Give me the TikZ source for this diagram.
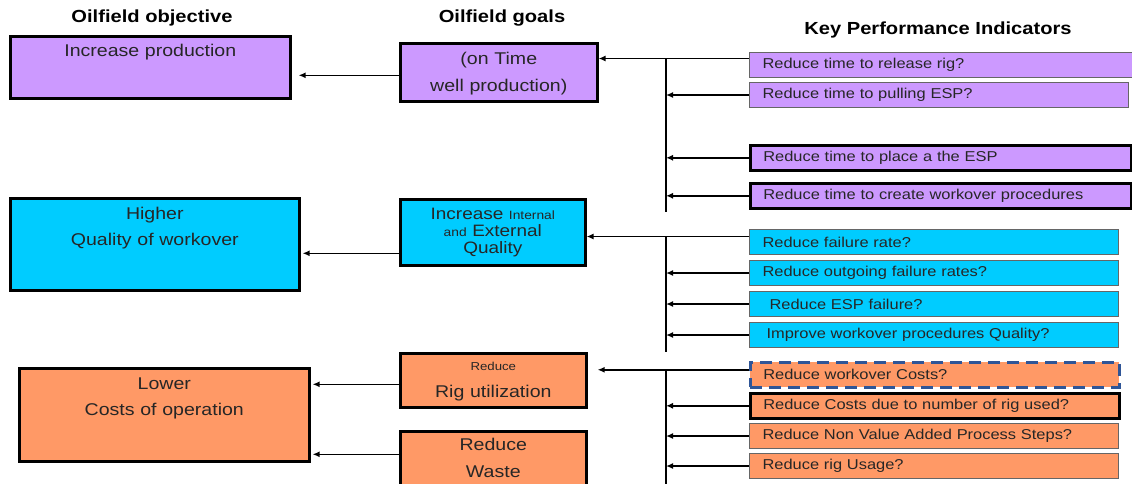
\documentclass[tikz,border=0pt]{standalone}
\usepackage{fontspec}
\setmainfont{Liberation Sans}[FakeStretch=1.15]
\usetikzlibrary{arrows.meta}
\definecolor{lilac}{HTML}{CC99FF}
\definecolor{skyc}{HTML}{00CCFF}
\definecolor{peach}{HTML}{FF9966}
\definecolor{dashblue}{HTML}{2F5597}

\begin{document}
\begin{tikzpicture}[x=1pt,y=-1pt,
	heading/.style={font=\fontsize{17.5}{20}\selectfont\bfseries},
	bigbox/.style={draw=black, line width=2.6pt, anchor=north west, inner xsep=4pt, inner ysep=0pt, align=center, text=black!85, font=\fontsize{17}{26}\selectfont},
	kpi/.style={draw=black!60, line width=1pt, anchor=north west, inner xsep=13pt, inner ysep=0pt, minimum height=25pt, align=left, text=black!85, font=\fontsize{14.3}{16}\selectfont},
	thickkpi/.style={kpi, draw=black, line width=2.6pt},
	arr/.style={line width=1.6pt, -{Latex[length=7pt,width=6pt]}},
	bus/.style={line width=2.2pt}]
	\useasboundingbox (0,0) rectangle (1132,483);
	\clip (0,0) rectangle (1132,483);

	\node[heading] (objtitle) at (152,18) {Oilfield objective};
	\node[heading] (goaltitle) at (502,18) {Oilfield goals};
	\node[heading] (kpititle) at (938,30) {Key Performance Indicators};

	\node[bigbox, fill=lilac, text width=272pt, text height=20pt, text depth=42pt] (o1) at (9,35) {Increase production};
	\node[bigbox, fill=skyc, text width=281pt, text height=21pt, text depth=71pt] (o2) at (9,197) {Higher\\Quality of workover};
	\node[bigbox, fill=peach, text width=282pt, text height=21pt, text depth=72pt] (o3) at (18,367) {Lower\\Costs of operation};

	\node[bigbox, fill=lilac, text width=189pt, text height=21pt, text depth=37pt, font=\fontsize{17}{27}\selectfont] (g1) at (399,42) {(on Time\\well production)};
	\node[bigbox, fill=skyc, text width=177pt, text height=20pt, text depth=46pt, font=\fontsize{16.5}{17}\selectfont] (g2) at (399,198) {Increase {\fontsize{12}{17}\selectfont Internal}\\{\fontsize{12}{17}\selectfont and} External\\Quality};
	\node[bigbox, fill=peach, text width=178pt, text height=17pt, text depth=37pt, font=\fontsize{17}{27}\selectfont] (g3) at (399,352) {{\fontsize{11.5}{27}\selectfont Reduce}\\Rig utilization};
	\node[bigbox, fill=peach, text width=178pt, text height=19pt, text depth=41pt, font=\fontsize{17}{27}\selectfont] (g4) at (399,430) {Reduce\\Waste};

	\node[kpi, fill=lilac, text width=374pt] (k1) at (749,52) {Reduce time to release rig?};
	\node[kpi, fill=lilac, text width=353pt] (k2) at (749,82) {Reduce time to pulling ESP?};
	\node[thickkpi, fill=lilac, text width=355pt] (k3) at (749,144) {Reduce time to place a the ESP};
	\node[thickkpi, fill=lilac, text width=355pt] (k4) at (749,182) {Reduce time to create workover procedures};

	\node[kpi, fill=skyc, text width=343pt] (k5) at (749,229) {Reduce failure rate?};
	\node[kpi, fill=skyc, text width=343pt] (k6) at (749,260) {Reduce outgoing failure rates?};
	\node[kpi, fill=skyc, text width=343pt] (k7) at (749,291) {\hspace*{7pt}Reduce ESP failure?};
	\node[kpi, fill=skyc, text width=343pt] (k8) at (749,322) {\hspace*{4pt}Improve workover procedures Quality?};

	\node[kpi, fill=peach, draw=dashblue, line width=2.6pt, dash pattern=on 12pt off 7pt, text width=343pt] (k9) at (749,361) {Reduce workover Costs?};
	\node[thickkpi, fill=peach, text width=343pt] (k10) at (749,392) {Reduce Costs due to number of rig used?};
	\node[kpi, fill=peach, text width=343pt] (k11) at (749,423) {Reduce Non Value Added Process Steps?};
	\node[kpi, fill=peach, text width=343pt] (k12) at (749,453) {Reduce rig Usage?};

	\coordinate (busx) at (666,0);
	\coordinate (bend1) at (666,212);
	\coordinate (bend2) at (666,352);
	\coordinate (bend3) at (666,490);

	\draw[arr] ([yshift=6.5pt]k1.west) coordinate (t1) -- (t1 -| g1.east);
	\draw[bus] (t1 -| busx) -- (bend1);
	\foreach \k in {k2,k3,k4}
		\draw[arr] (\k.west) -- (\k.west -| busx);

	\draw[arr] ([yshift=5.5pt]k5.west) coordinate (t2) -- (t2 -| g2.east);
	\draw[bus] (t2 -| busx) -- (bend2);
	\foreach \k in {k6,k7,k8}
		\draw[arr] (\k.west) -- (\k.west -| busx);

	\draw[arr, shorten >=10pt] ([yshift=5pt]k9.west) coordinate (t3) -- (t3 -| g3.east);
	\draw[bus] (t3 -| busx) -- (bend3);
	\foreach \k in {k10,k11,k12}
		\draw[arr] (\k.west) -- (\k.west -| busx);

	\draw[arr, shorten >=7pt] ([yshift=-3pt]g1.west) coordinate (s1) -- (s1 -| o1.east);
	\draw[arr, shorten >=2pt] ([yshift=-21pt]g2.west) coordinate (s2) -- (s2 -| o2.east);
	\draw[arr, shorten >=2pt] ([yshift=-4pt]g3.west) coordinate (s3) -- (s3 -| o3.east);
	\draw[arr, shorten >=2pt] ([yshift=7pt]g4.west) coordinate (s4) -- (s4 -| o3.east);
\end{tikzpicture}
\end{document}
